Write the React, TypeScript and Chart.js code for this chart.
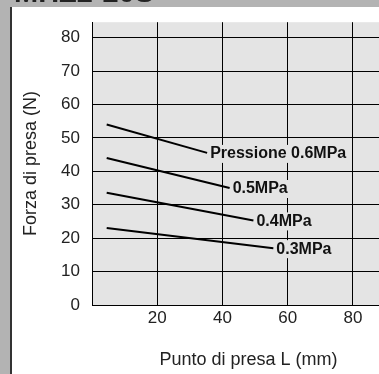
import React, { useEffect, useRef } from "react";
import { Chart, registerables } from "chart.js";

Chart.register(...registerables);

const chartTitle = "MHZ2-20S";
const xAxisTitle = "Punto di presa L (mm)";
const yAxisTitle = "Forza di presa (N)";
const xTickValues = [0, 20, 40, 60, 80];
const yTickValues = [0, 10, 20, 30, 40, 50, 60, 70, 80];
const seriesLabels = ["Pressione 0.6MPa", "0.5MPa", "0.4MPa", "0.3MPa"];
const gripPoint06 = [4.5, 35.3];
const force06 = [54.0, 45.5];
const gripPoint05 = [4.5, 42.2];
const force05 = [44.0, 35.0];
const gripPoint04 = [4.5, 49.5];
const force04 = [33.6, 25.3];
const gripPoint03 = [4.5, 55.6];
const force03 = [23.0, 17.0];

const FONT = "'Liberation Sans', Arial, sans-serif";

function toPoints(xs: number[], ys: number[]) {
  return xs.map((x, i) => ({ x, y: ys[i] }));
}

const bgPlugin = {
  id: "bgPlugin",
  beforeDraw(chart: any) {
    const { ctx, width, height } = chart;
    const area = chart.chartArea;
    ctx.save();
    ctx.fillStyle = "#b3b3b3";
    ctx.fillRect(0, 0, width, height);
    ctx.fillStyle = "#ffffff";
    ctx.fillRect(10, 7, width - 10, height - 7);
    ctx.fillStyle = "#333333";
    ctx.fillRect(10, 7, 2, height - 7);
    ctx.fillStyle = "#222";
    ctx.font = `bold 29px ${FONT}`;
    ctx.textBaseline = "alphabetic";
    ctx.textAlign = "left";
    ctx.fillText(chartTitle, 14, 2);
    ctx.fillStyle = "rgb(228,228,228)";
    ctx.fillRect(area.left, area.top, area.right - area.left, area.bottom - area.top);
    ctx.restore();
  },
};

const labelPlugin = {
  id: "labelPlugin",
  afterDatasetsDraw(chart: any) {
    const { ctx } = chart;
    ctx.save();
    ctx.font = `bold 16px ${FONT}`;
    ctx.textBaseline = "middle";
    ctx.textAlign = "left";
    chart.data.datasets.forEach((ds: any, i: number) => {
      const meta = chart.getDatasetMeta(i);
      const last = meta.data[meta.data.length - 1];
      const x = last.x + 3;
      const y = last.y + 1;
      const w = ctx.measureText(ds.label).width;
      ctx.fillStyle = "rgb(228,228,228)";
      ctx.fillRect(x - 1, y - 9, w + 2, 18);
      ctx.fillStyle = "#111";
      ctx.fillText(ds.label, x, y);
    });
    ctx.restore();
  },
};

const axisTitlePlugin = {
  id: "axisTitlePlugin",
  afterDraw(chart: any) {
    const { ctx, chartArea } = chart;
    ctx.save();
    ctx.fillStyle = "#222";
    ctx.font = `18px ${FONT}`;
    ctx.textAlign = "center";
    ctx.textBaseline = "middle";
    ctx.fillText(xAxisTitle, 248.5, 360);
    ctx.translate(31, (chartArea.top + chartArea.bottom) / 2);
    ctx.rotate(-Math.PI / 2);
    ctx.fillText(yAxisTitle, 0, 0);
    ctx.restore();
  },
};

export default function App() {
  const ref = useRef<HTMLCanvasElement | null>(null);
  useEffect(() => {
    document.body.style.margin = "0";
    const canvas = ref.current;
    if (!canvas) return;
    const series = [
      toPoints(gripPoint06, force06),
      toPoints(gripPoint05, force05),
      toPoints(gripPoint04, force04),
      toPoints(gripPoint03, force03),
    ];
    const chart = new Chart(canvas, {
      type: "scatter",
      data: {
        datasets: series.map((pts, i) => ({
          label: seriesLabels[i],
          data: pts,
          showLine: true,
          borderColor: "#000",
          backgroundColor: "#000",
          borderWidth: 2,
          pointRadius: 0,
          tension: 0,
        })),
      },
      options: {
        animation: false,
        responsive: false,
        devicePixelRatio: 1,
        layout: { padding: { top: 7, right: 0, left: 0, bottom: 0 } },
        plugins: {
          legend: { display: false },
          tooltip: { enabled: false },
          title: { display: false },
        },
        scales: {
          x: {
            type: "linear",
            min: 0,
            max: 88,
            afterBuildTicks: (s: any) => {
              s.ticks = xTickValues.map((v) => ({ value: v }));
            },
            afterFit: (s: any) => {
              s.height = 69;
            },
            grid: { color: "#000", lineWidth: 1, drawTicks: false },
            border: { color: "#000", width: 1 },
            ticks: {
              padding: 3,
              color: "#222",
              font: { family: FONT, size: 17 },
              callback: (v: any) => (v === 0 ? "" : String(v)),
            },
          },
          y: {
            type: "linear",
            min: 0,
            max: 84.6,
            afterBuildTicks: (s: any) => {
              s.ticks = yTickValues.map((v) => ({ value: v }));
            },
            afterFit: (s: any) => {
              s.width = 92;
            },
            grid: { color: "#000", lineWidth: 1, drawTicks: false },
            border: { color: "#000", width: 1 },
            ticks: {
              padding: 12,
              color: "#222",
              font: { family: FONT, size: 17 },
              callback: (v: any) => String(v),
            },
          },
        },
      },
      plugins: [bgPlugin, labelPlugin, axisTitlePlugin],
    } as any);
    return () => chart.destroy();
  }, []);
  return (
    <div style={{ width: 379, height: 374 }}>
      <canvas ref={ref} width={379} height={374} style={{ display: "block" }} />
    </div>
  );
}
